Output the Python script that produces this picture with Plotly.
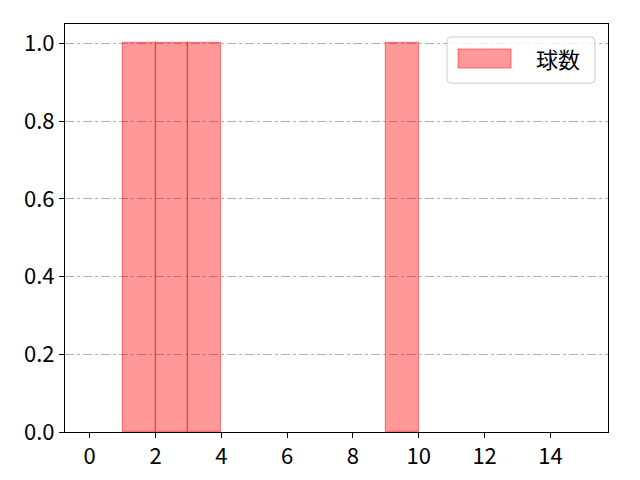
import plotly.graph_objects as go

# histogram bins (left edges) and counts
bin_left = list(range(0, 15))
counts = [0, 1, 1, 1, 0, 0, 0, 0, 0, 1, 0, 0, 0, 0, 0]
series_name = "球数"

x_ticks = [0, 2, 4, 6, 8, 10, 12, 14]
y_ticks = [0.0, 0.2, 0.4, 0.6, 0.8, 1.0]

font_family = "Noto Sans CJK JP"
fill_col = "rgba(255,0,0,0.4)"
edge_col = "rgba(255,0,0,0.45)"

# only draw non-empty bins (empty bins have no visible patch)
xs = [b + 0.5 for b, c in zip(bin_left, counts) if c > 0]
ys = [c for c in counts if c > 0]

fig = go.Figure()
fig.add_trace(go.Bar(
    x=xs,
    y=ys,
    width=1,
    name=series_name,
    marker=dict(color=fill_col, line=dict(color=edge_col, width=1.2)),
    showlegend=False,
))


def rounded_box(x0, x1, y0, y1, rx=4 / 543, ry=4 / 408):
    # rounded rectangle path in paper coordinates
    return (f"M {x0 + rx},{y0} L {x1 - rx},{y0} Q {x1},{y0} {x1},{y0 + ry} "
            f"L {x1},{y1 - ry} Q {x1},{y1} {x1 - rx},{y1} "
            f"L {x0 + rx},{y1} Q {x0},{y1} {x0},{y1 - ry} "
            f"L {x0},{y0 + ry} Q {x0},{y0} {x0 + rx},{y0} Z")


# matplotlib style legend drawn by hand
fig.add_shape(type="path", xref="paper", yref="paper",
              path=rounded_box(0.7035, 0.976, 0.855, 0.968),
              line=dict(color="#cccccc", width=1), fillcolor="rgba(255,255,255,0.8)",
              layer="above")
fig.add_shape(type="rect", xref="paper", yref="paper",
              x0=0.7238, x1=0.8214, y0=0.892, y1=0.9387,
              line=dict(color=edge_col, width=1), fillcolor=fill_col, layer="above")
fig.add_annotation(x=0.908, y=0.9167, xref="paper", yref="paper",
                   xanchor="center", yanchor="middle",
                   text=series_name, showarrow=False,
                   font=dict(size=22, family=font_family, color="black"))

fig.update_layout(
    width=640, height=480,
    margin=dict(l=65, r=32, t=24, b=48, autoexpand=False),
    plot_bgcolor="white",
    paper_bgcolor="white",
    font=dict(family=font_family, size=22, color="black"),
    bargap=0,
    xaxis=dict(
        range=[-0.75, 15.75],
        tickvals=x_ticks,
        ticktext=[str(t) for t in x_ticks],
        ticks="outside", ticklen=5, tickcolor="black",
        showgrid=False, zeroline=False,
        showline=True, linecolor="black", linewidth=1, mirror=True,
        automargin=False,
    ),
    yaxis=dict(
        range=[0, 1.05],
        tickvals=y_ticks,
        ticktext=[f"{t:.1f}" for t in y_ticks],
        ticks="outside", ticklen=5, tickcolor="black",
        showgrid=True, gridcolor="#b0b0b0", griddash="dashdot", gridwidth=1,
        zeroline=False,
        showline=True, linecolor="black", linewidth=1, mirror=True,
        layer="below traces",
        automargin=False,
    ),
)

fig.write_html("out.html", config={"displayModeBar": False},
               post_script="document.body.style.margin='0';")
